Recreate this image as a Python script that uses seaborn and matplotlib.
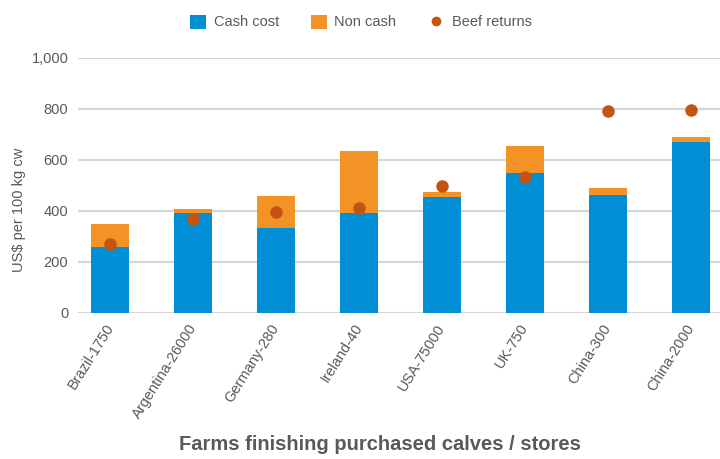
import pandas as pd
import matplotlib.pyplot as plt
import matplotlib.transforms as mtransforms
import seaborn as sns
from matplotlib.lines import Line2D
from matplotlib.patches import Patch

# values (US$ per 100 kg cw)
farms = ['Brazil-1750', 'Argentina-26000', 'Germany-280', 'Ireland-40',
         'USA-75000', 'UK-750', 'China-300', 'China-2000']
cash_cost = [259, 393, 334, 393, 456, 550, 463, 669]
non_cash = [91, 16, 126, 241, 19, 103, 28, 20]
beef_returns = [272, 368, 396, 410, 497, 532, 792, 797]

df = pd.DataFrame({'Farm': farms, 'Cash cost': cash_cost,
                   'Non cash': non_cash, 'Beef returns': beef_returns})
df['Total'] = df['Cash cost'] + df['Non cash']

blue = '#008fd5'
orange = '#f39325'
rust = '#c4540f'
grey_text = '#595959'

sns.set_style('white')
plt.rcParams['font.family'] = ['Liberation Sans', 'DejaVu Sans']

fig = plt.figure(figsize=(7.2, 4.59), dpi=100)
ax = fig.add_axes([78 / 720, 1 - 313 / 459, 642 / 720, 255 / 459])

# stacked bars: total in orange, cash cost drawn over it in blue
sns.barplot(data=df, x='Farm', y='Total', color=orange, width=0.46,
            saturation=1, linewidth=0, ax=ax, zorder=2)
sns.barplot(data=df, x='Farm', y='Cash cost', color=blue, width=0.46,
            saturation=1, linewidth=0, ax=ax, zorder=3)
sns.stripplot(data=df, x='Farm', y='Beef returns', color=rust, jitter=False,
              size=9, linewidth=0, ax=ax, zorder=4)

ax.set_ylim(0, 1000)
ax.set_xlim(-0.39, 7.35)
ax.set_yticks([0, 200, 400, 600, 800, 1000])
ax.set_yticklabels(['0', '200', '400', '600', '800', '1,000'])
ax.yaxis.grid(True, color='#d5d5d5', linewidth=1.5, zorder=0)
ax.set_axisbelow(True)
for s in ax.spines.values():
    s.set_visible(False)
ax.tick_params(axis='y', length=0, pad=7, labelsize=10.5, labelcolor=grey_text)
ax.tick_params(axis='x', length=0, pad=6, labelsize=10.5, labelcolor=grey_text)
shift = mtransforms.ScaledTranslation(-6 / 100, 0, fig.dpi_scale_trans)
for lab in ax.get_xticklabels():
    lab.set_rotation(58)
    lab.set_ha('right')
    lab.set_rotation_mode('anchor')
    lab.set_transform(lab.get_transform() + shift)
ax.set_xlabel('')
ax.set_ylabel('')

fig.text(19 / 720, 1 - 210 / 459, 'US$ per 100 kg cw', rotation=90,
         ha='center', va='center', fontsize=10.5, color=grey_text)
fig.text(380 / 720, 1 - 445 / 459, 'Farms finishing purchased calves / stores',
         ha='center', va='center', fontsize=14.5, fontweight='bold', color=grey_text)

handles = [Patch(facecolor=blue, edgecolor='none'),
           Patch(facecolor=orange, edgecolor='none'),
           Line2D([], [], marker='o', linestyle='none', markersize=7,
                  markerfacecolor=rust, markeredgecolor='none')]
fig.legend(handles, ['Cash cost', 'Non cash', 'Beef returns'], loc='center',
           bbox_to_anchor=(361 / 720, 1 - 22 / 459), ncol=3, frameon=False,
           fontsize=10.5, labelcolor=grey_text, handlelength=1.1,
           handleheight=1.1, handletextpad=0.5, columnspacing=2.2)

fig.savefig('out.png', dpi=100)
